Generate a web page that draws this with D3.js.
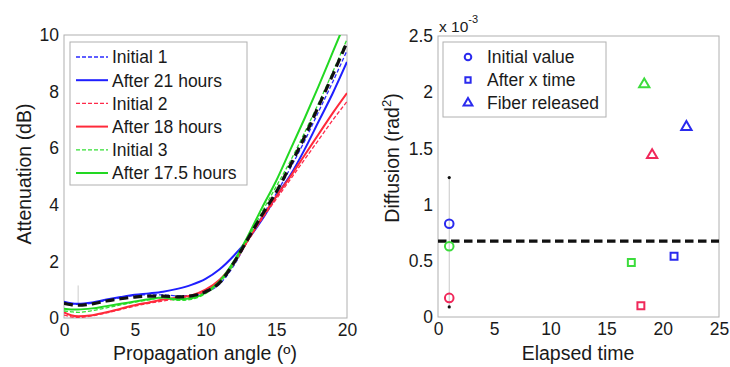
<!DOCTYPE html>
<html><head><meta charset="utf-8">
<script src="https://cdn.jsdelivr.net/npm/d3@7"></script>
<style>body{margin:0;background:#fff}svg{display:block}text{font-family:"Liberation Sans",Arial,sans-serif;fill:#1a1a1a}</style>
</head><body>
<script>
// ---------- Left chart data ----------
const angles = [0,0.5,1,2,3,4,5,6,7,8,9,10,11,12,13,14,15,16,17,18,19,20];
const initial1 = [0.55,0.5,0.48,0.52,0.62,0.72,0.8,0.82,0.82,0.78,0.8,0.9,1.2,1.85,2.75,3.6,4.4,5.3,6.25,7.3,8.35,9.45];
const after21h = [0.58,0.52,0.5,0.55,0.65,0.74,0.82,0.87,0.93,1.03,1.17,1.38,1.72,2.2,2.78,3.48,4.3,5.05,5.95,6.95,7.95,9.05];
const initial2 = [0.1,0.04,0.02,0.08,0.18,0.3,0.42,0.52,0.6,0.68,0.76,0.95,1.3,1.9,2.72,3.5,4.2,4.9,5.6,6.3,7.0,7.65];
const after18h = [0.2,0.1,0.06,0.1,0.2,0.33,0.45,0.55,0.65,0.72,0.8,1.0,1.35,1.95,2.75,3.55,4.3,5.0,5.75,6.5,7.25,7.95];
const initial3 = [0.25,0.22,0.2,0.26,0.36,0.46,0.56,0.64,0.72,0.62,0.66,0.86,1.25,1.9,2.8,3.75,4.65,5.55,6.55,7.6,8.7,9.85];
const after175h = [0.33,0.3,0.3,0.34,0.42,0.5,0.58,0.66,0.72,0.66,0.7,0.9,1.3,2.0,2.9,3.9,4.85,5.95,7.05,8.2,9.4,10.6];
const fitLine = [0.52,0.47,0.45,0.5,0.6,0.68,0.74,0.77,0.77,0.75,0.78,0.93,1.25,1.95,2.8,3.65,4.45,5.4,6.4,7.5,8.6,9.75];
const leftSeries = [
  {name:"Initial 1", values:initial1, color:"#2a2aff", dash:"4,2", width:1.3},
  {name:"After 21 hours", values:after21h, color:"#1f1fff", dash:null, width:2},
  {name:"Initial 2", values:initial2, color:"#ff2a4a", dash:"4,2", width:1.3},
  {name:"After 18 hours", values:after18h, color:"#ff2a3a", dash:null, width:2},
  {name:"Initial 3", values:initial3, color:"#33e033", dash:"4,2", width:1.3},
  {name:"After 17.5 hours", values:after175h, color:"#22d822", dash:null, width:2}
];
const leftXTicks = [0,5,10,15,20];
const leftYTicks = [0,2,4,6,8,10];

// ---------- Right chart data ----------
const initialX = [1,1,1];
const initialY = [0.83,0.63,0.17];
const afterX = [21,17.2,18.05];
const afterY = [0.54,0.485,0.1];
const releasedX = [22.1,18.35,19.05];
const releasedY = [1.69,2.07,1.44];
const pointColors = ["#2a2aee","#3cdc3c","#f0285a"];
const errorBarX = 1;
const errorBarLow = 0.09;
const errorBarHigh = 1.24;
const thresholdY = 0.675;
const rightXTicks = [0,5,10,15,20,25];
const rightYTicks = [0,0.5,1,1.5,2,2.5];
const rightYTickLabels = ["0","0.5","1","1.5","2","2.5"];

const W=730,H=367;
const svg = d3.select("body").append("svg").attr("width",W).attr("height",H);
const boxColor="#b0b0b0";
const tickFont="17.5px", labelFont="19.5px", legFont="17.5px";

// ---------- Left chart ----------
const xL = d3.scaleLinear().domain([0,20]).range([64,347]);
const yL = d3.scaleLinear().domain([0,10]).range([318,35]);
const gL = svg.append("g");
gL.append("defs").append("clipPath").attr("id","clipL").append("rect")
  .attr("x",64).attr("y",35).attr("width",283).attr("height",283);

const axL = gL.append("g").attr("transform","translate(0,318)").call(d3.axisBottom(xL).tickValues(leftXTicks).tickSize(0).tickPadding(6));
const ayL = gL.append("g").attr("transform","translate(64,0)").call(d3.axisLeft(yL).tickValues(leftYTicks).tickSize(0).tickPadding(5));
[axL,ayL].forEach(a=>{a.select(".domain").remove();a.selectAll("text").style("font-size",tickFont).attr("fill","#1a1a1a");});
gL.append("rect").attr("x",64).attr("y",35).attr("width",283).attr("height",283).attr("fill","none").attr("stroke",boxColor).attr("stroke-width",1);

// faint error marks
gL.append("line").attr("x1",xL(1)).attr("x2",xL(1)).attr("y1",yL(0.45)).attr("y2",yL(1.15)).attr("stroke","#ccc").attr("stroke-width",1);

const line = d3.line().x((d,i)=>xL(angles[i])).y(d=>yL(d)).curve(d3.curveMonotoneX);
const plotL = gL.append("g").attr("clip-path","url(#clipL)");
leftSeries.forEach(s=>{
  plotL.append("path").datum(s.values).attr("d",line).attr("fill","none")
    .attr("stroke",s.color).attr("stroke-width",s.width).attr("stroke-dasharray",s.dash);
});
plotL.append("path").datum(fitLine).attr("d",line).attr("fill","none")
  .attr("stroke","#111").attr("stroke-width",3.2).attr("stroke-dasharray","9,5");

// legend left
const legL = gL.append("g");
legL.append("rect").attr("x",70).attr("y",42).attr("width",177).attr("height",143).attr("fill","#fff").attr("stroke",boxColor);
leftSeries.forEach((s,i)=>{
  const y = 57 + i*23.2;
  legL.append("line").attr("x1",76).attr("x2",108).attr("y1",y).attr("y2",y)
    .attr("stroke",s.color).attr("stroke-width",s.width).attr("stroke-dasharray",s.dash);
  legL.append("text").attr("x",112).attr("y",y).attr("dy","0.36em").style("font-size",legFont).text(s.name);
});
gL.append("text").attr("x",205).attr("y",360).attr("text-anchor","middle").style("font-size",labelFont).text("Propagation angle (º)");
gL.append("text").attr("transform","translate(31,174) rotate(-90)").attr("text-anchor","middle").style("font-size",labelFont).text("Attenuation (dB)");

// ---------- Right chart ----------
const xR = d3.scaleLinear().domain([0,25]).range([438,719]);
const yR = d3.scaleLinear().domain([0,2.5]).range([317,36]);
const gR = svg.append("g");
const axR = gR.append("g").attr("transform","translate(0,317)").call(d3.axisBottom(xR).tickValues(rightXTicks).tickSize(0).tickPadding(6));
const ayR = gR.append("g").attr("transform","translate(438,0)").call(d3.axisLeft(yR).tickValues(rightYTicks).tickFormat((d,i)=>rightYTickLabels[i]).tickSize(0).tickPadding(5));
[axR,ayR].forEach(a=>{a.select(".domain").remove();a.selectAll("text").style("font-size",tickFont).attr("fill","#1a1a1a");});
gR.append("rect").attr("x",438).attr("y",36).attr("width",281).attr("height",281).attr("fill","none").attr("stroke",boxColor);

// exponent label
const ex = gR.append("text").attr("x",439).attr("y",32).style("font-size","15.5px");
ex.append("tspan").text("x 10");
ex.append("tspan").attr("dy","-9").style("font-size","11px").text("-3");

// error bar
gR.append("line").attr("x1",xR(errorBarX)).attr("x2",xR(errorBarX)).attr("y1",yR(errorBarLow)).attr("y2",yR(errorBarHigh)).attr("stroke","#c8c8c8").attr("stroke-width",1);
[errorBarLow,errorBarHigh].forEach(v=>gR.append("circle").attr("cx",xR(errorBarX)).attr("cy",yR(v)).attr("r",1.6).attr("fill","#111"));

// threshold
gR.append("line").attr("x1",438).attr("x2",719).attr("y1",yR(thresholdY)).attr("y2",yR(thresholdY))
  .attr("stroke","#111").attr("stroke-width",3.2).attr("stroke-dasharray","8.5,4.5");

const sym = {
  circle: d3.symbol().type(d3.symbolCircle).size(58),
  square: d3.symbol().type(d3.symbolSquare).size(48),
  triangle: d3.symbol().type(d3.symbolTriangle).size(46)
};
function drawPts(xs,ys,s){
  xs.forEach((x,i)=>{
    gR.append("path").attr("d",s()).attr("transform",`translate(${xR(x)},${yR(ys[i])})`)
      .attr("fill","none").attr("stroke",pointColors[i]).attr("stroke-width",2);
  });
}
drawPts(initialX,initialY,sym.circle);
drawPts(afterX,afterY,sym.square);
drawPts(releasedX,releasedY,sym.triangle);

// legend right
const legR = gR.append("g");
legR.append("rect").attr("x",443).attr("y",42).attr("width",163).attr("height",75).attr("fill","#fff").attr("stroke",boxColor);
const legSyms = [d3.symbol().type(d3.symbolCircle).size(34),d3.symbol().type(d3.symbolSquare).size(28),d3.symbol().type(d3.symbolTriangle).size(34)];
const legNames = ["Initial value","After x time","Fiber released"];
legNames.forEach((n,i)=>{
  const y = 57 + i*23;
  legR.append("path").attr("d",legSyms[i]()).attr("transform",`translate(468,${y})`)
    .attr("fill","none").attr("stroke","#2a2aee").attr("stroke-width",2);
  legR.append("text").attr("x",487).attr("y",y).attr("dy","0.36em").style("font-size",legFont).text(n);
});
gR.append("text").attr("x",578).attr("y",360).attr("text-anchor","middle").style("font-size",labelFont).text("Elapsed time");
const yt = gR.append("text").attr("transform","translate(399,158) rotate(-90)").attr("text-anchor","middle").style("font-size",labelFont);
yt.append("tspan").text("Diffusion (rad");
yt.append("tspan").attr("dy","-8").style("font-size","13px").text("2");
yt.append("tspan").attr("dy","8").text(")");
</script>
</body></html>
